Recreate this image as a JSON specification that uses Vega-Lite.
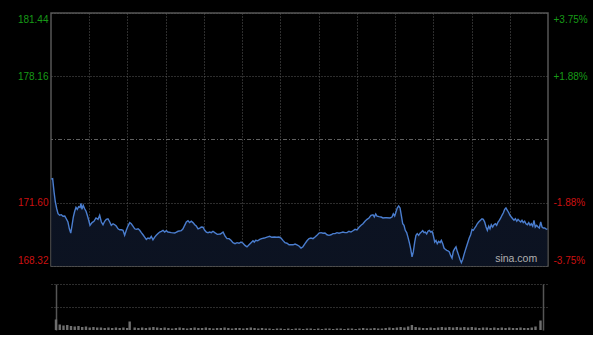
{
  "$schema": "https://vega.github.io/schema/vega-lite/v6.json",
  "autosize": {"type": "pad"},
  "padding": {"left": 16, "top": 12, "right": 5, "bottom": 5},
  "background": "#000000",
  "config": {
    "view": {"stroke": "#555555", "strokeWidth": 1.5},
    "axis": {"labelFont": "Liberation Sans", "labelFontSize": 10, "title": null},
    "axisX": {"labels": false, "ticks": false, "domain": false, "grid": true, "gridColor": "#5a5a5a", "gridDash": [1, 2], "gridWidth": 1},
    "axisY": {"ticks": false, "domain": false}
  },
  "datasets": {
    "price": [
      {"t":0.2,"p":172.82},{"t":1.3,"p":172.85},{"t":2.4,"p":172.16},{"t":3.4,"p":171.64},{"t":4.5,"p":171.29},{"t":5.5,"p":171.03},{"t":6.8,"p":170.95},{"t":8.1,"p":170.98},{"t":9.4,"p":170.90},{"t":10.8,"p":170.91},{"t":12.0,"p":170.77},{"t":13.3,"p":170.60},{"t":14.4,"p":170.25},{"t":15.5,"p":170.03},{"t":16.5,"p":170.43},{"t":17.5,"p":170.86},{"t":18.6,"p":171.16},{"t":19.6,"p":171.36},{"t":20.6,"p":171.26},{"t":21.7,"p":171.40},{"t":22.8,"p":171.36},{"t":23.5,"p":171.57},{"t":24.3,"p":171.26},{"t":25.3,"p":171.47},{"t":26.4,"p":171.29},{"t":27.5,"p":171.16},{"t":28.5,"p":170.95},{"t":29.6,"p":170.69},{"t":30.6,"p":170.43},{"t":32.2,"p":170.57},{"t":33.7,"p":170.64},{"t":35.3,"p":170.81},{"t":36.9,"p":170.74},{"t":38.2,"p":170.95},{"t":39.5,"p":170.60},{"t":40.8,"p":170.46},{"t":42.1,"p":170.64},{"t":43.4,"p":170.74},{"t":44.7,"p":170.77},{"t":46.1,"p":170.60},{"t":47.3,"p":170.43},{"t":48.7,"p":170.51},{"t":50.0,"p":170.46},{"t":51.2,"p":170.39},{"t":52.6,"p":170.25},{"t":53.9,"p":170.20},{"t":55.2,"p":170.20},{"t":56.5,"p":170.17},{"t":57.8,"p":169.91},{"t":59.1,"p":170.17},{"t":60.4,"p":170.39},{"t":61.8,"p":170.57},{"t":63.0,"p":170.51},{"t":64.3,"p":170.39},{"t":65.7,"p":170.25},{"t":66.9,"p":170.22},{"t":68.3,"p":170.25},{"t":69.6,"p":170.17},{"t":70.9,"p":170.05},{"t":72.2,"p":169.94},{"t":73.5,"p":169.82},{"t":74.8,"p":169.70},{"t":76.1,"p":169.77},{"t":77.5,"p":169.74},{"t":78.7,"p":169.86},{"t":80.0,"p":169.68},{"t":81.4,"p":169.82},{"t":82.6,"p":169.91},{"t":84.0,"p":170.00},{"t":85.3,"p":170.08},{"t":86.6,"p":170.12},{"t":87.9,"p":170.17},{"t":89.2,"p":170.08},{"t":90.5,"p":170.15},{"t":91.8,"p":170.08},{"t":94.4,"p":170.05},{"t":97.1,"p":170.03},{"t":99.7,"p":170.12},{"t":102.2,"p":170.15},{"t":103.6,"p":170.25},{"t":104.9,"p":170.43},{"t":106.2,"p":170.60},{"t":107.5,"p":170.67},{"t":108.8,"p":170.57},{"t":110.1,"p":170.64},{"t":111.4,"p":170.57},{"t":112.8,"p":170.46},{"t":114.0,"p":170.39},{"t":115.4,"p":170.25},{"t":116.7,"p":170.29},{"t":117.9,"p":170.34},{"t":119.3,"p":170.33},{"t":120.6,"p":170.17},{"t":121.9,"p":170.08},{"t":123.2,"p":170.05},{"t":124.5,"p":170.08},{"t":125.8,"p":170.05},{"t":127.1,"p":170.12},{"t":128.5,"p":170.05},{"t":130.5,"p":169.96},
      {"t":132.9,"p":169.98},{"t":135.0,"p":170.08},{"t":136.5,"p":169.88},{"t":138.1,"p":169.74},{"t":139.7,"p":169.74},{"t":141.2,"p":169.65},{"t":142.8,"p":169.53},{"t":144.4,"p":169.48},{"t":146.0,"p":169.53},{"t":147.5,"p":169.50},{"t":149.1,"p":169.56},{"t":150.7,"p":169.50},{"t":152.2,"p":169.39},{"t":153.8,"p":169.31},{"t":155.4,"p":169.42},{"t":157.0,"p":169.53},{"t":158.5,"p":169.63},{"t":159.5,"p":169.56},{"t":160.6,"p":169.65},{"t":162.2,"p":169.63},{"t":163.8,"p":169.70},{"t":165.3,"p":169.74},{"t":167.4,"p":169.77},{"t":169.5,"p":169.82},{"t":171.6,"p":169.86},{"t":173.2,"p":169.81},{"t":175.2,"p":169.82},{"t":177.3,"p":169.81},{"t":178.9,"p":169.82},{"t":180.5,"p":169.77},{"t":182.0,"p":169.65},{"t":183.6,"p":169.53},{"t":185.2,"p":169.50},{"t":186.8,"p":169.42},{"t":188.3,"p":169.42},{"t":189.9,"p":169.42},{"t":191.5,"p":169.46},{"t":193.0,"p":169.42},{"t":194.6,"p":169.36},{"t":196.2,"p":169.25},{"t":197.7,"p":169.32},{"t":199.3,"p":169.48},{"t":200.9,"p":169.63},{"t":202.5,"p":169.74},{"t":204.0,"p":169.77},{"t":205.6,"p":169.74},{"t":207.2,"p":169.82},{"t":208.7,"p":169.91},{"t":210.3,"p":170.03},{"t":211.9,"p":170.05},{"t":213.4,"p":170.02},{"t":215.0,"p":170.03},{"t":216.6,"p":169.94},{"t":218.1,"p":169.91},{"t":219.7,"p":169.94},{"t":221.3,"p":170.00},{"t":222.9,"p":170.00},{"t":224.4,"p":170.05},{"t":226.0,"p":170.02},{"t":227.6,"p":170.05},{"t":229.1,"p":170.08},{"t":230.7,"p":170.05},{"t":232.3,"p":170.05},{"t":233.8,"p":170.12},{"t":235.4,"p":170.08},{"t":237.0,"p":170.15},{"t":238.6,"p":170.22},{"t":240.1,"p":170.19},{"t":241.7,"p":170.33},{"t":243.3,"p":170.43},{"t":244.8,"p":170.51},{"t":246.4,"p":170.64},{"t":248.0,"p":170.74},{"t":249.5,"p":170.81},{"t":251.1,"p":170.95},{"t":252.7,"p":170.98},{"t":253.7,"p":170.86},{"t":254.8,"p":171.02},{"t":255.8,"p":170.91},{"t":257.4,"p":170.88},{"t":259.0,"p":170.86},{"t":260.5,"p":170.81},{"t":262.1,"p":170.82},
      {"t":263.4,"p":170.82},{"t":266.0,"p":170.81},{"t":267.6,"p":170.86},{"t":268.6,"p":171.03},{"t":269.7,"p":170.91},{"t":270.7,"p":171.12},{"t":271.7,"p":171.33},{"t":272.8,"p":171.43},{"t":273.9,"p":171.33},{"t":274.9,"p":170.95},{"t":276.0,"p":170.51},{"t":277.0,"p":170.43},{"t":278.0,"p":170.17},{"t":279.1,"p":170.05},{"t":280.1,"p":169.82},{"t":281.2,"p":169.53},{"t":282.3,"p":169.19},{"t":283.3,"p":168.79},{"t":284.3,"p":169.05},{"t":285.4,"p":169.56},{"t":286.4,"p":169.91},{"t":287.4,"p":170.00},{"t":288.5,"p":169.91},{"t":289.6,"p":170.02},{"t":290.6,"p":170.08},{"t":291.7,"p":170.15},{"t":292.7,"p":170.05},{"t":293.7,"p":170.08},{"t":294.8,"p":169.98},{"t":295.8,"p":170.12},{"t":296.9,"p":170.17},{"t":298.0,"p":170.08},{"t":299.0,"p":170.12},{"t":300.0,"p":169.91},{"t":301.1,"p":169.56},{"t":302.1,"p":169.65},{"t":303.1,"p":169.48},{"t":304.2,"p":169.60},{"t":305.3,"p":169.53},{"t":306.3,"p":169.65},{"t":307.4,"p":169.48},{"t":308.4,"p":169.25},{"t":309.4,"p":169.19},{"t":310.5,"p":169.13},{"t":311.5,"p":169.11},{"t":312.6,"p":169.05},{"t":313.6,"p":168.87},{"t":314.7,"p":168.73},{"t":315.7,"p":169.08},{"t":316.8,"p":169.22},{"t":317.8,"p":169.31},{"t":318.8,"p":169.08},{"t":319.9,"p":168.87},{"t":320.9,"p":168.67},{"t":322.0,"p":168.49},{"t":323.1,"p":168.67},{"t":324.1,"p":168.91},{"t":325.1,"p":169.13},{"t":326.2,"p":169.36},{"t":327.2,"p":169.56},{"t":328.2,"p":169.77},{"t":329.3,"p":169.94},{"t":330.4,"p":170.22},{"t":331.4,"p":170.17},{"t":332.5,"p":170.29},{"t":333.5,"p":170.39},{"t":334.5,"p":170.51},{"t":335.6,"p":170.60},{"t":336.6,"p":170.67},{"t":338.2,"p":170.77},{"t":339.2,"p":170.74},{"t":340.3,"p":170.60},{"t":341.4,"p":170.34},{"t":342.4,"p":170.17},{"t":343.5,"p":170.39},{"t":344.5,"p":170.25},{"t":345.5,"p":170.46},{"t":346.6,"p":170.34},{"t":347.6,"p":170.46},{"t":348.7,"p":170.51},{"t":349.7,"p":170.43},{"t":350.8,"p":170.60},{"t":351.8,"p":170.69},{"t":352.9,"p":170.81},{"t":353.9,"p":170.95},{"t":355.0,"p":171.08},{"t":356.0,"p":171.26},{"t":357.0,"p":171.33},{"t":358.1,"p":171.21},{"t":359.2,"p":171.08},{"t":360.2,"p":170.95},{"t":361.2,"p":170.86},{"t":362.3,"p":170.77},{"t":363.3,"p":170.69},{"t":364.4,"p":170.77},{"t":365.5,"p":170.64},{"t":366.5,"p":170.74},{"t":367.5,"p":170.67},{"t":368.6,"p":170.60},{"t":369.6,"p":170.69},{"t":370.6,"p":170.57},{"t":371.7,"p":170.64},{"t":372.7,"p":170.51},{"t":373.8,"p":170.46},{"t":374.9,"p":170.57},{"t":375.9,"p":170.43},{"t":376.9,"p":170.51},{"t":378.0,"p":170.39},{"t":379.0,"p":170.69},{"t":380.0,"p":170.34},{"t":381.1,"p":170.43},{"t":382.2,"p":170.34},{"t":383.2,"p":170.29},{"t":384.3,"p":170.60},{"t":385.3,"p":170.34},{"t":386.3,"p":170.29},{"t":387.4,"p":170.29},{"t":388.4,"p":170.25},{"t":389.5,"p":170.22}
    ],
    "volume": [
      {"t":0,"v":10.5},{"t":3,"v":5.5},{"t":6,"v":4.5},{"t":9,"v":5},{"t":12,"v":4},{"t":15,"v":3.5},{"t":18,"v":4},{"t":21,"v":3},{"t":24,"v":3.5},{"t":27,"v":2.5},{"t":30,"v":3},{"t":33,"v":2.5},{"t":36,"v":2.5},{"t":39,"v":2},{"t":42,"v":2.5},{"t":45,"v":2},{"t":48,"v":2.5},{"t":51,"v":2},{"t":54,"v":2.5},{"t":57,"v":2},{"t":59,"v":8.5},{"t":63,"v":2.5},{"t":66,"v":2},{"t":69,"v":2.5},{"t":72,"v":2},{"t":75,"v":2.5},{"t":78,"v":3},{"t":81,"v":2.5},{"t":84,"v":2},{"t":87,"v":2.5},{"t":90,"v":2},{"t":93,"v":1.5},{"t":96,"v":2},{"t":99,"v":2.5},{"t":102,"v":2},{"t":105,"v":1.5},{"t":108,"v":2},{"t":111,"v":2.5},{"t":114,"v":2},{"t":117,"v":2},{"t":120,"v":2.5},{"t":123,"v":2},{"t":126,"v":1.5},{"t":129,"v":2},{"t":132,"v":2},{"t":135,"v":2.5},{"t":138,"v":2},{"t":141,"v":1.5},{"t":144,"v":2},{"t":147,"v":2},{"t":150,"v":1.5},{"t":153,"v":2},{"t":156,"v":2.5},{"t":159,"v":2},{"t":162,"v":1.5},{"t":165,"v":2},{"t":168,"v":1.5},{"t":171,"v":1.5},{"t":174,"v":1},{"t":177,"v":1.5},{"t":180,"v":1.5},{"t":183,"v":1},{"t":186,"v":1.5},{"t":189,"v":1},{"t":192,"v":1.5},{"t":195,"v":1.5},{"t":198,"v":1},{"t":201,"v":1.5},{"t":204,"v":1.5},{"t":207,"v":1},{"t":210,"v":1.5},{"t":213,"v":1},{"t":216,"v":1.5},{"t":219,"v":1.5},{"t":222,"v":1},{"t":225,"v":1.5},{"t":228,"v":1.5},{"t":231,"v":1},{"t":234,"v":1.5},{"t":237,"v":1.5},{"t":240,"v":1},{"t":243,"v":1.5},{"t":246,"v":2},{"t":249,"v":1.5},{"t":252,"v":1.5},{"t":255,"v":2},{"t":258,"v":1.5},{"t":261,"v":1.5},{"t":264,"v":2},{"t":267,"v":2.5},{"t":270,"v":2},{"t":273,"v":2.5},{"t":276,"v":3},{"t":279,"v":2.5},{"t":282,"v":3.5},{"t":285,"v":5},{"t":288,"v":3},{"t":291,"v":2.5},{"t":294,"v":2},{"t":297,"v":2},{"t":300,"v":2.5},{"t":303,"v":2},{"t":306,"v":2.5},{"t":309,"v":3},{"t":312,"v":2.5},{"t":315,"v":3},{"t":318,"v":2.5},{"t":321,"v":3},{"t":324,"v":2.5},{"t":327,"v":3},{"t":330,"v":2.5},{"t":333,"v":3},{"t":336,"v":2.5},{"t":339,"v":2},{"t":342,"v":2.5},{"t":345,"v":2.5},{"t":348,"v":2},{"t":351,"v":2.5},{"t":354,"v":2},{"t":357,"v":2.5},{"t":360,"v":2},{"t":363,"v":2.5},{"t":366,"v":2},{"t":369,"v":2},{"t":372,"v":2.5},{"t":375,"v":2},{"t":378,"v":2},{"t":381,"v":2.5},{"t":384,"v":3.5},{"t":388,"v":9.5}
    ]
  },
  "vconcat": [
    {
      "width": 497,
      "height": 253,
      "resolve": {"axis": {"y": "independent"}},
      "layer": [
        {
          "data": {"name": "price"},
          "mark": {"type": "area", "clip": true, "color": {"gradient": "linear", "x1": 0, "y1": 0, "x2": 0, "y2": 1, "stops": [{"offset": 0, "color": "#0c1322"}, {"offset": 1, "color": "#030407"}]}},
          "encoding": {
            "x": {"field": "t", "type": "quantitative", "scale": {"domain": [0, 390], "nice": false}, "axis": {"values": [30, 60, 90, 120, 150, 180, 210, 240, 270, 300, 330, 360]}},
            "y": {"field": "p", "type": "quantitative", "scale": {"domain": [168.32, 181.44], "nice": false, "zero": false},
              "axis": {"orient": "left", "values": [181.44, 178.16, 171.6, 168.32], "format": ".2f", "grid": true, "gridColor": "#5a5a5a", "gridDash": [1, 2], "labelPadding": 3, "labelFlush": true, "labelFlushOffset": -1,
                "labelColor": {"condition": {"test": "datum.value > 174.88", "value": "#179a17"}, "value": "#cc1111"}}}
          }
        },
        {
          "data": {"values": [{"prevClose": 174.88}]},
          "mark": {"type": "rule", "color": "#606060", "strokeDash": [4, 2, 1, 2], "strokeWidth": 1},
          "encoding": {"y": {"field": "prevClose", "type": "quantitative", "axis": null}}
        },
        {
          "data": {"name": "price"},
          "mark": {"type": "line", "color": "#4a7dce", "strokeWidth": 1.4, "clip": true},
          "encoding": {
            "x": {"field": "t", "type": "quantitative"},
            "y": {"field": "p", "type": "quantitative",
              "axis": {"orient": "right", "values": [181.44, 178.16, 171.6, 168.32], "grid": false, "labelPadding": 5, "labelFlush": true, "labelFlushOffset": -1,
                "labelExpr": "datum.value > 180 ? '+3.75%' : datum.value > 176 ? '+1.88%' : datum.value > 170 ? '-1.88%' : '-3.75%'",
                "labelColor": {"condition": {"test": "datum.value > 174.88", "value": "#179a17"}, "value": "#cc1111"}}}
          }
        },
        {
          "data": {"values": [{"t": 381.5, "p": 168.4, "label": "sina.com"}]},
          "mark": {"type": "text", "align": "right", "baseline": "bottom", "font": "Liberation Sans", "fontSize": 10.5, "color": "#b0b0b0"},
          "encoding": {
            "x": {"field": "t", "type": "quantitative"},
            "y": {"field": "p", "type": "quantitative", "axis": null},
            "text": {"field": "label"}
          }
        }
      ]
    },
    {
      "width": 497,
      "height": 46,
      "view": {"stroke": null},
      "data": {"name": "volume"},
      "mark": {"type": "bar", "width": 2.4, "color": "#6e6e6e"},
      "encoding": {
        "x": {"field": "t", "type": "quantitative", "scale": {"domain": [0, 390], "nice": false},
          "axis": {"values": [0, 390], "gridDash": [], "gridColor": "#555555", "gridWidth": 1.5}},
        "y": {"field": "v", "type": "quantitative", "scale": {"domain": [0, 46], "nice": false},
          "axis": {"values": [23, 46], "labels": false, "grid": true, "gridColor": "#5a5a5a", "gridDash": [1, 2]}}
      }
    }
  ],
  "spacing": 17
}
